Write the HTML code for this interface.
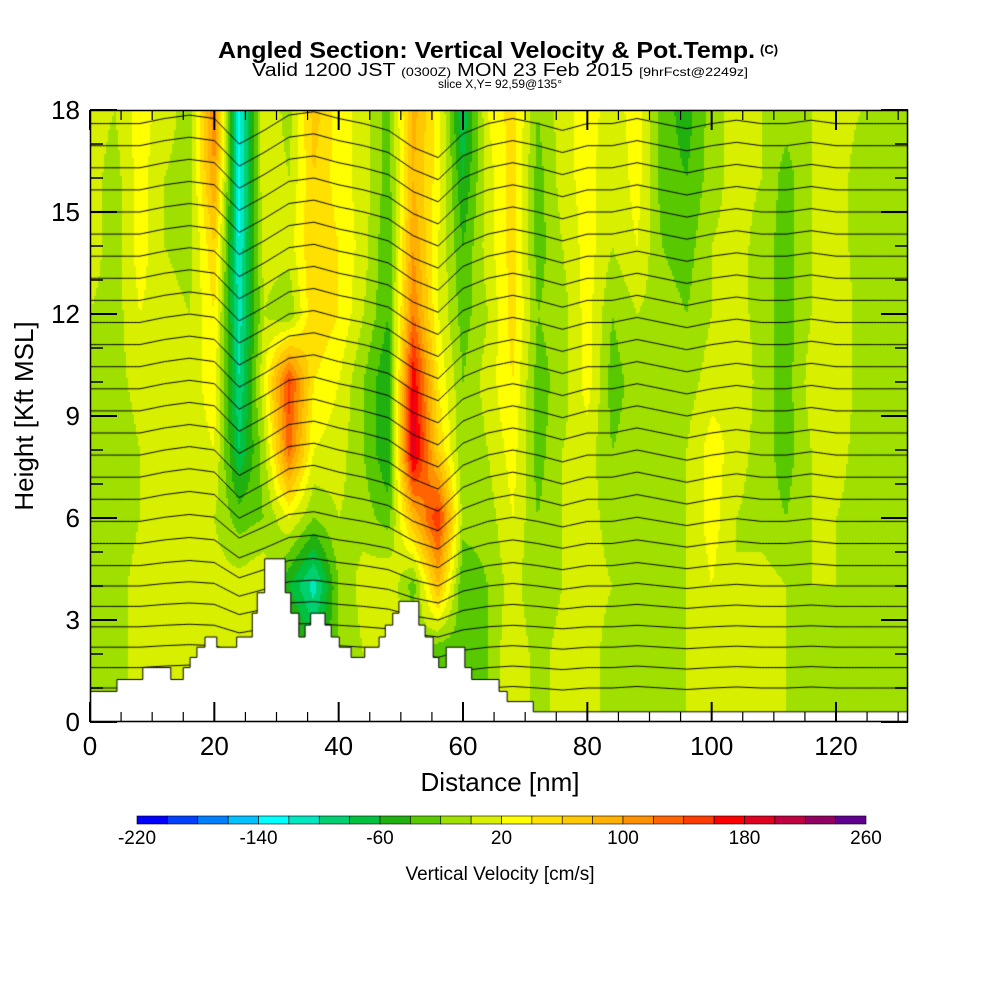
<!DOCTYPE html>
<html><head><meta charset="utf-8">
<style>
html,body{margin:0;padding:0;background:#fff;}
#wrap{position:relative;width:1000px;height:1000px;overflow:hidden;font-family:"Liberation Sans",sans-serif;}
canvas,svg{position:absolute;left:0;top:0;}
</style></head>
<body>
<div id="wrap">
<canvas id="cv" width="1000" height="1000"></canvas>
<svg id="sv" width="1000" height="1000"></svg>
</div>
<script>
// ---- data ----
const xCols = [0,4,8,12,16,20,24,28,32,36,40,44,48,52,56,60,64,68,72,76,80,84,88,92,96,100,104,108,112,116,120,124,128,132];
const hRows = [18,16,14,12,10,8,6,4,2,0];
const w18 = [10,0,30,10,-10,120,-130,20,-10,70,30,10,-30,90,30,-80,20,50,-20,10,30,10,30,-30,-50,-10,10,0,-10,0,10,0,-10,-10];
const w16 = [10,-10,30,0,-10,100,-130,20,0,60,30,10,-30,80,30,-60,10,50,-30,10,30,0,30,-30,-40,-10,10,0,-30,0,10,-10,-10,-10];
const w14 = [10,-10,30,0,-10,60,-120,10,10,60,40,10,-40,100,20,-40,10,50,-30,0,30,0,20,-20,-30,0,10,-10,-30,0,10,-10,-10,-10];
const w12 = [0,-10,20,10,0,40,-110,0,-20,60,40,0,-40,120,20,-30,0,50,-20,-10,30,-20,0,-10,-20,0,10,-10,-30,0,20,-10,-10,-10];
const w10 = [-10,-10,10,20,10,30,-100,20,150,40,20,-20,-60,180,40,-20,10,40,-30,-10,30,-30,-10,-10,-10,10,20,-10,-30,10,20,-10,-10,-10];
const w8  = [-10,-20,0,10,10,20,-80,-10,130,20,10,-20,-60,200,60,-20,0,30,-30,0,10,-20,-10,-10,0,30,10,-10,-30,0,10,-10,-10,-10];
const w6  = [0,-20,0,10,10,0,-30,-20,20,-20,0,-10,-30,80,160,-10,-10,20,-20,0,10,-10,-10,-10,0,30,0,-10,-20,0,0,-10,-10,-10];
const w4  = [-10,-10,10,10,0,10,10,20,-60,-110,-20,10,20,-30,80,-40,-20,10,-20,0,10,0,-10,-10,0,20,0,10,0,0,0,-10,-10,-10];
const w2  = [-10,-10,10,10,0,10,0,0,0,-60,-20,0,10,0,-40,-30,-20,20,-10,10,10,-10,-10,-10,0,10,10,0,0,-10,0,-10,-10,-10];
const w0  = [-10,-10,10,10,0,10,0,0,0,-40,-20,0,10,0,-30,-30,-20,20,-10,10,10,-10,-10,-10,0,10,10,0,0,-10,0,-10,-10,-10];
const thetaDisp = [0,0,0,0.15,0.25,0.15,-0.6,-0.2,0.25,0.35,0.15,0,-0.2,-0.7,-1.0,-0.3,0,0.15,0,-0.2,0,0,0.15,0,-0.15,0,0.1,0,0,0.1,0,0,0,0];
const thetaLevels = [1.0,1.6,2.2,2.8,3.4,4.0,4.6,5.25,5.9,6.55,7.2,7.85,8.5,9.15,9.8,10.45,11.1,11.75,12.4,13.05,13.7,14.35,15.0,15.65,16.3,16.95,17.6];
const terrainStartNm = [0,4.34,8.5,13.0,15.0,16.1,17.2,18.5,20.4,23.6,26.1,26.9,28.1,31.4,32.3,33.6,34.6,35.5,37.8,38.8,40.1,42.0,44.2,46.5,47.5,48.7,49.7,52.9,53.9,55.2,56.1,57.3,60.3,61.4,65.8,67.1,71.3];
const terrainKft = [0.9,1.25,1.6,1.25,1.6,1.9,2.2,2.5,2.2,2.5,3.2,3.8,4.8,3.8,3.2,2.5,2.85,3.2,2.85,2.5,2.2,1.9,2.2,2.5,2.85,3.2,3.55,2.85,2.5,1.9,1.6,2.2,1.6,1.25,0.9,0.6,0.3];
const cbTicks = [-220,-140,-60,20,100,180,260];
const yTicks = [0,3,6,9,12,15,18];
const xTicks = [0,20,40,60,80,100,120];
const palette = ["#0000ff","#0040ff","#0080ff","#00c0ff","#00ffff","#00e8c0","#00d070","#00c040","#20b010","#58c800","#a0e000","#d8f000","#ffff00","#ffe000","#ffc800","#ffb000","#ff9000","#ff6400","#ff3c00","#ff0000","#e00020","#c00040","#900060","#600090"];

// ---- axes ----
const PL=90,PR=908,PT=110,PB=722;
const xs = nm => PL + nm*(836-90)/120;
const ys = k => PB - k*(PB-PT)/18;
const grid=[w18,w16,w14,w12,w10,w8,w6,w4,w2,w0];
function field(nm,k){
  let fx = nm/4; let i=Math.min(Math.floor(fx),xCols.length-2); let tx=fx-i;
  let fy=(18-k)/2; let j=Math.min(Math.max(Math.floor(fy),0),hRows.length-2); let ty=fy-j;
  const a=grid[j][i],b=grid[j][i+1],c=grid[j+1][i],d=grid[j+1][i+1];
  return (a*(1-tx)+b*tx)*(1-ty)+(c*(1-tx)+d*tx)*ty;
}
function colorOf(v){let b=Math.floor((v+220)/20);b=Math.max(0,Math.min(23,b));return palette[b];}
function disp(nm){let fx=nm/4;let i=Math.min(Math.floor(fx),xCols.length-2);let t=fx-i;return thetaDisp[i]*(1-t)+thetaDisp[i+1]*t;}

const cv=document.getElementById('cv');const ctx=cv.getContext('2d');
ctx.fillStyle='#fff';ctx.fillRect(0,0,1000,1000);
const kpp=18/(PB-PT), npp=120/(836-90);
for(let py=PT;py<PB;py+=2){
  for(let px=PL;px<PR;px+=2){
    const nm=(px+1-PL)*npp, k=(PB-py-1)*kpp;
    ctx.fillStyle=colorOf(field(nm,k));ctx.fillRect(px,py,2,2);
  }
}
// contour lines
ctx.save();ctx.beginPath();ctx.rect(PL,PT,PR-PL,PB-PT);ctx.clip();
ctx.strokeStyle='#000';ctx.lineWidth=1;
thetaLevels.forEach(L=>{
  ctx.beginPath();
  for(let nm=0;nm<=132;nm+=0.5){
    const amp=Math.min(1,Math.max(0.3,(L-1)/6));
    const y=ys(L+disp(nm)*amp);const x=xs(nm);
    if(nm===0)ctx.moveTo(x,y);else ctx.lineTo(x,y);
  }
  ctx.stroke();
});
// terrain
ctx.fillStyle='#fff';ctx.beginPath();ctx.moveTo(xs(0),PB);
terrainStartNm.forEach((s,i)=>{const e=i+1<terrainStartNm.length?terrainStartNm[i+1]:133;
  ctx.lineTo(xs(s),ys(terrainKft[i]));ctx.lineTo(xs(e),ys(terrainKft[i]));});
ctx.lineTo(xs(133),PB);ctx.closePath();ctx.fill();ctx.stroke();
ctx.restore();

// ---- svg overlay ----
const NS='http://www.w3.org/2000/svg';const sv=document.getElementById('sv');
function el(tag,attrs,txt){const e=document.createElementNS(NS,tag);for(const k in attrs)e.setAttribute(k,attrs[k]);if(txt!==undefined)e.textContent=txt;sv.appendChild(e);return e;}
let fr=el('rect',{x:PL+0.5,y:PT+0.5,width:PR-PL-1,height:PB-PT-1,fill:'none',stroke:'#000','stroke-width':1.5});


for(let k=0;k<=18;k++){
  const len=k%3===0?27:13;const y=ys(k);
  let t1=el('line',{x1:PL,x2:PL+len,y1:y,y2:y,stroke:'#000','stroke-width':k%3===0?2:1.5});
  
  
  let t2=el('line',{x1:PR,x2:PR-len,y1:y,y2:y,stroke:'#000','stroke-width':k%3===0?2:1.5});
  
  
}
for(let n=0;n<=130;n+=5){
  const len=n%20===0?20:10;const x=xs(n);
  let t1=el('line',{x1:x,x2:x,y1:PB,y2:PB-len,stroke:'#000','stroke-width':n%20===0?2:1.2});
  
  
  let t2=el('line',{x1:x,x2:x,y1:PT,y2:PT+len,stroke:'#000','stroke-width':n%20===0?2:1.2});
  
  
}
yTicks.forEach(v=>{let t=el('text',{x:80,y:ys(v)+9,'text-anchor':'end','font-size':26},String(v));
  
  });
xTicks.forEach(v=>{let t=el('text',{x:xs(v),y:755,'text-anchor':'middle','font-size':26},String(v));
  
  });
let xt=el('text',{x:500,y:791,'text-anchor':'middle','font-size':26},'Distance [nm]');


let yt=el('text',{x:0,y:0,'text-anchor':'middle','font-size':26,transform:'translate(33,416) rotate(-90)'},'Height [Kft MSL]');


// titles
let ti=el('text',{x:218,y:58,'font-size':23,'font-weight':'bold',textLength:537,lengthAdjust:'spacingAndGlyphs'},'Angled Section: Vertical Velocity & Pot.Temp.');


let tc=el('text',{x:760,y:54,'font-size':13,'font-weight':'bold'},'(C)');


let t2=el('text',{x:252,y:76,'font-size':18,textLength:496,lengthAdjust:'spacingAndGlyphs'});


t2.innerHTML='Valid 1200 JST <tspan font-size="12">(0300Z)</tspan> MON 23 Feb 2015 <tspan font-size="12">[9hrFcst@2249z]</tspan>';
let t3=el('text',{x:500,y:88,'font-size':12,'text-anchor':'middle'},'slice X,Y= 92,59@135°');


// colorbar
const cbL=137,cbR=866,cbT=816,cbH=8;const bw=(cbR-cbL)/palette.length;
palette.forEach((c,i)=>{let r=el('rect',{x:cbL+i*bw,y:cbT,width:bw,height:cbH,fill:c,stroke:'#000','stroke-width':0.6});
  
  });
const cbx=v=>cbL+(v+220)/480*(cbR-cbL);
cbTicks.forEach(v=>{let t=el('text',{x:cbx(v),y:844,'text-anchor':'middle','font-size':19},String(v));
  
  });
let ct=el('text',{x:500,y:880,'text-anchor':'middle','font-size':19},'Vertical Velocity [cm/s]');


</script>
</body></html>
